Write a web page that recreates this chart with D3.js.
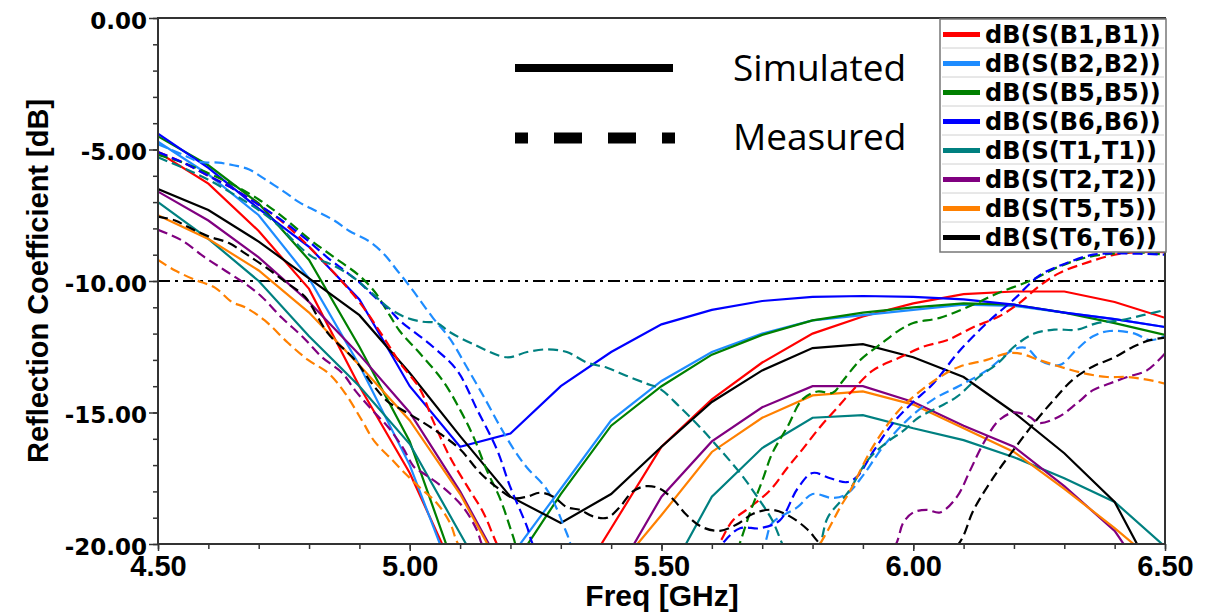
<!DOCTYPE html>
<html>
<head>
<meta charset="utf-8">
<script src="https://cdn.jsdelivr.net/npm/d3@7"></script>
<style>
  body { margin: 0; background: #fff; }
  svg { display: block; }
</style>
</head>
<body>
<script>
// reflection coefficient chart, simulated vs measured

var width = 1222, height = 615;

// simulated curves are sampled every 0.1 GHz
var simFreq = [4.5, 4.6, 4.7, 4.8, 4.9, 5.0, 5.1, 5.2, 5.3, 5.4, 5.5,
               5.6, 5.7, 5.8, 5.9, 6.0, 6.1, 6.2, 6.3, 6.4, 6.5];

var simB1 = [-5.1, -6.3, -8.1, -10.3, -14.0, -17.3, -21.5, -24, -22.5, -19.4, -16.3,
             -14.5, -13.1, -12.0, -11.35, -10.85, -10.5, -10.4, -10.4, -10.8, -11.4];
var simB2 = [-4.7, -5.95, -7.5, -9.9, -13.2, -17.0, -22.0, -20.5, -17.9, -15.3, -13.8,
             -12.7, -12.0, -11.5, -11.3, -11.1, -10.9, -10.95, -11.2, -11.45, -11.75];
var simB5 = [-4.5, -5.6, -7.05, -9.2, -12.5, -16.1, -21.5, -21.0, -18.1, -15.5, -14.0,
             -12.8, -12.05, -11.5, -11.2, -11.0, -10.85, -10.9, -11.2, -11.6, -12.05];
var simB6 = [-4.4, -5.7, -7.25, -8.7, -10.7, -14.0, -16.3, -15.8, -14.0, -12.7, -11.65,
             -11.1, -10.76, -10.6, -10.57, -10.6, -10.7, -10.9, -11.2, -11.45, -11.75];
var simT1 = [-7.0, -8.4, -10.0, -12.1, -14.0, -16.2, -19.6, -23, -25, -24, -21.7,
             -18.2, -16.35, -15.2, -15.1, -15.6, -16.05, -16.7, -17.5, -18.4, -20.1];
var simT2 = [-6.6, -7.7, -9.1, -10.8, -12.8, -15.0, -18.0, -21.5, -23, -21.5, -18.2,
             -16.1, -14.8, -14.0, -14.0, -14.6, -15.5, -16.3, -17.8, -19.5, -22.3];
var simT5 = [-7.5, -8.4, -9.6, -11.2, -13.2, -15.3, -18.1, -21.6, -23, -21.2, -18.9,
             -16.5, -15.2, -14.35, -14.2, -14.7, -15.6, -16.5, -17.9, -19.4, -21.0];
var simT6 = [-6.5, -7.3, -8.5, -9.9, -11.3, -13.5, -15.9, -18.2, -19.2, -18.1, -16.3,
             -14.6, -13.4, -12.55, -12.4, -12.9, -13.65, -15.0, -16.55, -18.4, -22];

// measured curves: [freq GHz, dB]
var measB1 = [[4.5,-5.1],[4.55,-5.5],[4.6,-6.0],[4.65,-6.5],[4.7,-7.1],[4.75,-7.8],[4.8,-8.7],[4.85,-9.7],
  [4.9,-10.8],[4.95,-12.2],[4.98,-13.1],[5.02,-14.1],[5.046,-15.3],[5.08,-16.7],[5.114,-17.8],[5.146,-18.8],
  [5.173,-20],[5.2,-21],[5.3,-22],[5.4,-22.5],[5.5,-22],[5.58,-21],[5.614,-20],[5.642,-19.1],[5.676,-18.6],
  [5.716,-17.95],[5.75,-17.1],[5.78,-16.4],[5.815,-15.55],[5.85,-14.8],[5.88,-14.15],[5.92,-13.4],[5.974,-12.9],
  [6.02,-12.5],[6.067,-12.25],[6.12,-11.75],[6.17,-11.35],[6.21,-10.85],[6.25,-10.2],[6.29,-9.7],[6.345,-9.3],
  [6.4,-9.0],[6.45,-8.9],[6.5,-8.9]];
var measB2 = [[4.5,-4.8],[4.55,-5.2],[4.583,-5.47],[4.62,-5.5],[4.65,-5.6],[4.68,-5.75],[4.71,-6.1],[4.75,-6.6],
  [4.78,-7.0],[4.815,-7.35],[4.85,-7.7],[4.88,-8.1],[4.92,-8.5],[4.95,-9.0],[4.975,-9.6],[5.0,-10.2],[5.046,-11.4],
  [5.08,-12.2],[5.114,-13.3],[5.15,-14.5],[5.18,-15.55],[5.21,-16.5],[5.233,-17.1],[5.273,-17.95],[5.312,-19.6],
  [5.33,-20.5],[5.4,-22],[5.5,-23],[5.6,-22.5],[5.68,-21],[5.705,-20],[5.72,-19.2],[5.77,-18.6],[5.8,-18.1],
  [5.84,-18.25],[5.868,-18.1],[5.9,-17.4],[5.94,-16.3],[5.99,-15.25],[6.04,-14.5],[6.09,-14.0],[6.146,-13.4],
  [6.2,-12.6],[6.225,-12.55],[6.25,-13.0],[6.29,-13.2],[6.325,-12.6],[6.357,-12.1],[6.39,-11.9],[6.44,-12.0],
  [6.47,-12.25],[6.5,-12.1]];
var measB5 = [[4.5,-5.2],[4.55,-5.5],[4.6,-5.9],[4.65,-6.35],[4.7,-6.9],[4.75,-7.6],[4.8,-8.4],[4.85,-9.1],
  [4.9,-9.8],[4.93,-10.4],[4.96,-11.3],[4.98,-11.9],[5.02,-12.75],[5.066,-13.8],[5.1,-14.9],[5.126,-15.9],
  [5.153,-17.2],[5.18,-18.3],[5.205,-19.7],[5.22,-20.5],[5.3,-22],[5.4,-23],[5.5,-23],[5.6,-22],[5.64,-20.8],
  [5.655,-20],[5.676,-18.8],[5.70,-17.6],[5.72,-16.55],[5.75,-15.55],[5.78,-14.5],[5.81,-14.2],[5.84,-14.25],
  [5.86,-13.8],[5.895,-13.0],[5.935,-12.4],[5.974,-11.85],[6.0,-11.6],[6.053,-11.4],[6.107,-11.0],[6.17,-10.45],
  [6.237,-9.95],[6.29,-9.45],[6.345,-9.1],[6.4,-8.95],[6.44,-8.9],[6.5,-9.0]];
var measB6 = [[4.5,-5.1],[4.55,-5.5],[4.6,-6.0],[4.65,-6.5],[4.7,-7.1],[4.75,-7.75],[4.8,-8.5],[4.836,-9.1],
  [4.87,-9.6],[4.9,-10.05],[4.93,-10.6],[4.96,-11.1],[4.98,-11.5],[5.046,-12.5],[5.094,-13.4],[5.134,-14.9],
  [5.173,-16.4],[5.199,-17.8],[5.233,-19.35],[5.244,-20],[5.3,-22],[5.4,-23],[5.5,-22.5],[5.58,-21],[5.62,-20],
  [5.656,-19.4],[5.696,-19.4],[5.735,-19.1],[5.77,-17.9],[5.8,-17.3],[5.835,-17.5],[5.868,-17.65],[5.888,-17.45],
  [5.92,-16.5],[5.96,-15.4],[6.0,-14.6],[6.04,-13.9],[6.09,-12.7],[6.146,-11.6],[6.2,-10.7],[6.25,-9.8],
  [6.3,-9.35],[6.357,-9.0],[6.41,-8.95],[6.5,-9.0]];
var measT1 = [[4.5,-5.3],[4.55,-5.7],[4.6,-6.15],[4.65,-6.7],[4.7,-7.3],[4.74,-7.9],[4.776,-8.6],[4.808,-9.1],
  [4.842,-9.35],[4.887,-9.85],[4.927,-10.5],[4.96,-11.05],[4.994,-11.4],[5.026,-11.55],[5.054,-11.6],[5.08,-11.95],
  [5.126,-12.4],[5.193,-12.9],[5.233,-12.7],[5.273,-12.6],[5.312,-12.7],[5.352,-13.1],[5.392,-13.3],[5.43,-13.6],
  [5.47,-13.9],[5.497,-14.1],[5.537,-14.8],[5.576,-15.55],[5.616,-16.4],[5.656,-17.3],[5.69,-18.2],[5.72,-19.1],
  [5.74,-20],[5.76,-20.8],[5.79,-20.8],[5.815,-20],[5.83,-19.0],[5.87,-18.05],[5.91,-16.8],[5.95,-16.1],
  [5.98,-15.7],[6.01,-15.2],[6.05,-14.8],[6.087,-14.4],[6.13,-13.65],[6.17,-13.1],[6.2,-12.5],[6.24,-12.0],
  [6.28,-11.85],[6.325,-11.85],[6.365,-11.6],[6.41,-11.5],[6.456,-11.3],[6.5,-11.1]];
var measT2 = [[4.5,-8.05],[4.547,-8.45],[4.593,-9.1],[4.633,-9.6],[4.673,-10.1],[4.706,-10.6],[4.746,-11.4],
  [4.786,-12.1],[4.826,-12.9],[4.866,-13.5],[4.891,-14.15],[4.925,-14.9],[4.957,-15.55],[4.985,-16.3],[5.01,-17.1],
  [5.026,-17.3],[5.066,-17.85],[5.106,-18.6],[5.134,-19.5],[5.143,-20],[5.2,-22],[5.4,-24],[5.7,-24],[5.9,-22],
  [5.966,-20],[5.98,-19.2],[6.0,-18.8],[6.027,-18.7],[6.053,-18.8],[6.087,-18.2],[6.113,-17.2],[6.14,-16.15],
  [6.17,-15.3],[6.2,-15.0],[6.23,-15.15],[6.25,-15.4],[6.29,-15.15],[6.325,-14.65],[6.357,-14.15],[6.39,-13.9],
  [6.425,-13.65],[6.464,-13.4],[6.5,-12.75]];
var measT5 = [[4.5,-9.2],[4.534,-9.6],[4.573,-9.95],[4.613,-10.25],[4.647,-10.8],[4.673,-11.0],[4.712,-11.5],
  [4.758,-12.35],[4.798,-13.0],[4.838,-13.5],[4.871,-14.25],[4.905,-15.3],[4.93,-16.1],[4.965,-16.8],[4.99,-17.3],
  [5.02,-17.85],[5.054,-18.45],[5.08,-19.2],[5.096,-20],[5.15,-21.5],[5.4,-24],[5.7,-23],[5.79,-21],[5.815,-20],
  [5.83,-19.5],[5.855,-18.6],[5.874,-18.0],[5.92,-16.3],[5.97,-14.95],[6.013,-14.2],[6.053,-13.65],[6.093,-13.25],
  [6.146,-13.0],[6.186,-12.75],[6.21,-12.75],[6.25,-13.0],[6.29,-13.25],[6.337,-13.5],[6.385,-13.65],[6.425,-13.65],
  [6.464,-13.75],[6.5,-13.9]];
var measT6 = [[4.5,-7.55],[4.534,-7.7],[4.56,-7.95],[4.6,-8.3],[4.64,-8.55],[4.673,-8.95],[4.712,-9.45],
  [4.758,-10.1],[4.792,-10.6],[4.838,-12.0],[4.891,-13.0],[4.925,-13.9],[4.957,-14.6],[4.98,-14.85],[5.02,-15.3],
  [5.06,-15.8],[5.1,-16.4],[5.14,-17.3],[5.18,-17.95],[5.205,-18.25],[5.233,-18.2],[5.259,-18.05],[5.285,-18.2],
  [5.312,-18.6],[5.338,-18.7],[5.364,-18.95],[5.392,-19.0],[5.417,-18.6],[5.443,-18.0],[5.47,-17.8],[5.497,-17.9],
  [5.523,-18.3],[5.55,-18.9],[5.58,-19.35],[5.616,-19.5],[5.65,-19.25],[5.682,-18.85],[5.72,-18.7],[5.755,-18.95],
  [5.79,-19.45],[5.815,-20],[5.9,-21.5],[6.0,-21.5],[6.09,-20],[6.12,-18.7],[6.16,-17.45],[6.2,-16.4],
  [6.24,-15.4],[6.28,-14.5],[6.317,-13.75],[6.357,-13.25],[6.4,-12.9],[6.437,-12.5],[6.47,-12.25],[6.5,-12.15]];

var portNames = ["dB(S(B1,B1))", "dB(S(B2,B2))", "dB(S(B5,B5))", "dB(S(B6,B6))",
                 "dB(S(T1,T1))", "dB(S(T2,T2))", "dB(S(T5,T5))", "dB(S(T6,T6))"];
var portColors = ["#ff0000", "#1e8cff", "#008000", "#0000ff",
                  "#008080", "#800080", "#ff8000", "#000000"];
var simSeries = [simB1, simB2, simB5, simB6, simT1, simT2, simT5, simT6];
var measSeries = [measB1, measB2, measB5, measB6, measT1, measT2, measT5, measT6];

var xTicks = [4.5, 5.0, 5.5, 6.0, 6.5];
var yTicks = [0, -5, -10, -15, -20];
var threshold = -10;

// plot box (don't call these top/left, they clash with window globals)
var plotL = 158, plotR = 1165, plotT = 18, plotB = 544;

var x = d3.scaleLinear().domain([4.5, 6.5]).range([plotL, plotR]);
var y = d3.scaleLinear().domain([-20, 0]).range([plotB, plotT]);

var svg = d3.select("body").append("svg")
    .attr("width", width)
    .attr("height", height);

svg.append("defs").append("clipPath")
    .attr("id", "plot")
  .append("rect")
    .attr("x", plotL).attr("y", plotT)
    .attr("width", plotR - plotL).attr("height", plotB - plotT);

var fmt = function(d){ return d.toFixed(2); };

// minor ticks
svg.append("g")
    .attr("transform", "translate(" + plotL + ",0)")
    .call(d3.axisLeft(y).tickValues(d3.range(-20, 0.5, 1)).tickSize(5).tickFormat(""))
    .call(function(g){ g.select(".domain").remove(); });
svg.append("g")
    .attr("transform", "translate(0," + plotB + ")")
    .call(d3.axisBottom(x).tickValues(d3.range(45, 66, 1).map(function(d){ return d / 10; })).tickSize(5).tickFormat(""))
    .call(function(g){ g.select(".domain").remove(); });

// major ticks + labels
var yAxis = svg.append("g")
    .attr("transform", "translate(" + plotL + ",0)")
    .call(d3.axisLeft(y).tickValues(yTicks).tickSize(9).tickPadding(2).tickFormat(fmt));
yAxis.select(".domain").remove();
yAxis.selectAll("text")
    .attr("dy", "0.45em")
    .style("font-family", "'DejaVu Sans', sans-serif")
    .style("font-weight", "bold")
    .style("font-size", "23px")
    .attr("fill", "#000");

var xAxis = svg.append("g")
    .attr("transform", "translate(0," + plotB + ")")
    .call(d3.axisBottom(x).tickValues(xTicks).tickSize(7).tickPadding(4).tickFormat(fmt));
xAxis.select(".domain").remove();
xAxis.selectAll("text")
    .style("font-family", "'Liberation Sans', Arial, sans-serif")
    .style("font-weight", "bold")
    .style("font-size", "29px")
    .attr("fill", "#000");

svg.selectAll(".tick line").attr("stroke", "#333").attr("stroke-width", 1.5);

// curves
var plot = svg.append("g").attr("clip-path", "url(#plot)");

var simLine = d3.line()
    .x(function(d, i){ return x(simFreq[i]); })
    .y(function(d){ return y(d); });

var measLine = d3.line()
    .x(function(d){ return x(d[0]); })
    .y(function(d){ return y(d[1]); })
    .curve(d3.curveCatmullRom);

// -10 dB reference line
plot.append("line")
    .attr("x1", plotL).attr("x2", plotR)
    .attr("y1", y(threshold)).attr("y2", y(threshold))
    .attr("stroke", "#000")
    .attr("stroke-width", 2.2)
    .attr("stroke-dasharray", "12,5,3,5");

plot.selectAll("path.sim")
    .data(simSeries)
    .enter()
    .append("path")
    .attr("class", "sim")
    .attr("d", simLine)
    .attr("fill", "none")
    .attr("stroke", function(d, i){ return portColors[i]; })
    .attr("stroke-width", 2.2);

plot.selectAll("path.meas")
    .data(measSeries)
    .enter()
    .append("path")
    .attr("class", "meas")
    .attr("d", measLine)
    .attr("fill", "none")
    .attr("stroke", function(d, i){ return portColors[i]; })
    .attr("stroke-width", 2.2)
    .attr("stroke-dasharray", "10,5");

// frame
svg.append("rect")
    .attr("x", plotL).attr("y", plotT)
    .attr("width", plotR - plotL).attr("height", plotB - plotT)
    .attr("fill", "none")
    .attr("stroke", "#333")
    .attr("stroke-width", 2);

// simulated / measured key
svg.append("line")
    .attr("x1", 515).attr("x2", 673).attr("y1", 68).attr("y2", 68)
    .attr("stroke", "#000").attr("stroke-width", 8);
svg.append("line")
    .attr("x1", 515).attr("x2", 675).attr("y1", 138).attr("y2", 138)
    .attr("stroke", "#000").attr("stroke-width", 11)
    .attr("stroke-dasharray", "13,26,28,26,28,26,13");
svg.append("text")
    .attr("x", 733).attr("y", 81)
    .style("font-family", "'Open Sans', sans-serif")
    .style("font-size", "37px")
    .text("Simulated");
svg.append("text")
    .attr("x", 733).attr("y", 150)
    .style("font-family", "'Open Sans', sans-serif")
    .style("font-size", "37px")
    .text("Measured");

// port legend
var legX = 940, legY = 19, legW = 226, rowH = 29;
var legend = svg.append("g");
legend.append("rect")
    .attr("x", legX).attr("y", legY)
    .attr("width", legW).attr("height", rowH * portNames.length + 1)
    .attr("fill", "#fff")
    .attr("stroke", "#777")
    .attr("stroke-width", 1.5);

var rows = legend.selectAll("g.row")
    .data(portNames)
    .enter()
    .append("g")
    .attr("class", "row")
    .attr("transform", function(d, i){ return "translate(0," + (legY + rowH * i) + ")"; });

rows.filter(function(d, i){ return i > 0; })
  .append("line")
    .attr("x1", legX + 2).attr("x2", legX + legW - 2)
    .attr("y1", 0).attr("y2", 0)
    .attr("stroke", "#d0d0d0").attr("stroke-width", 1);

rows.append("line")
    .attr("x1", legX + 3).attr("x2", legX + 40)
    .attr("y1", rowH / 2 + 1).attr("y2", rowH / 2 + 1)
    .attr("stroke", function(d, i){ return portColors[i]; })
    .attr("stroke-width", 5);

rows.append("text")
    .attr("x", legX + 45)
    .attr("y", rowH / 2 + 9)
    .style("font-family", "'DejaVu Sans', sans-serif")
    .style("font-weight", "bold")
    .style("font-size", "24px")
    .text(function(d){ return d; });

// axis titles
svg.append("text")
    .attr("transform", "translate(48,281) rotate(-90)")
    .attr("text-anchor", "middle")
    .style("font-family", "'Liberation Sans', Arial, sans-serif")
    .style("font-weight", "bold")
    .style("font-size", "29px")
    .text("Reflection Coefficient [dB]");

svg.append("text")
    .attr("x", 662).attr("y", 606)
    .attr("text-anchor", "middle")
    .style("font-family", "'Liberation Sans', Arial, sans-serif")
    .style("font-weight", "bold")
    .style("font-size", "30px")
    .text("Freq [GHz]");
</script>
</body>
</html>
